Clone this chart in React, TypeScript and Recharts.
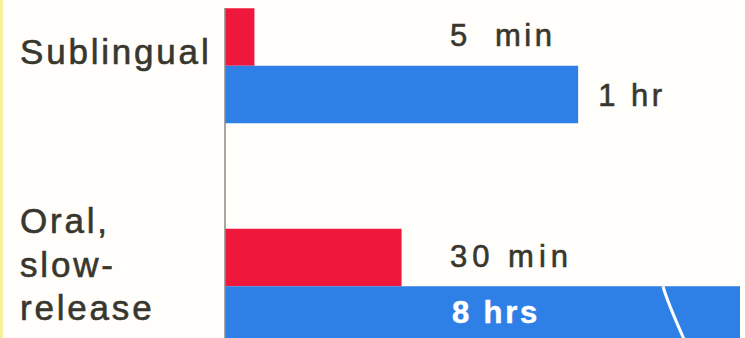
import React from 'react';
import { BarChart, Bar, XAxis, YAxis, LabelList } from 'recharts';

const categories = ['Sublingual', 'Oral, slow-release'];
const categoryLines = [['Sublingual'], ['Oral,', 'slow-', 'release']];
const onsetMinutes = [5, 30];
const durationMinutes = [60, 480];
const onsetLabels = ['5  min', '30 min'];
const onsetSpacing = [3.5, 5];
const durationLabels = ['1 hr', '8 hrs'];
const X_MAX = 87.5;

const data = categories.map((name, i) => ({
  name,
  onset: onsetMinutes[i],
  duration: durationMinutes[i],
}));

const RED = '#f0173d';
const BLUE = '#2e7fe6';
const TEXT = '#38372f';
const FONT = '"Liberation Sans", Arial, Helvetica, sans-serif';

const CategoryTick = (props: any) => {
  const { y, index } = props;
  const lines = categoryLines[index] || [];
  const offsets = lines.length === 1 ? [-1.5] : [-53, -9, 34];
  return (
    <g>
      {lines.map((l, k) => (
        <text key={k} x={20} y={y + offsets[k]} fill={TEXT} stroke={TEXT} strokeWidth={0.6} fontFamily={FONT} fontSize={35} letterSpacing={2.8}>
          {l}
        </text>
      ))}
    </g>
  );
};

const DurationShape = (props: any) => {
  const { x, y, width, height, background, payload } = props;
  const maxRight = background ? background.x + background.width : x + width;
  const w = Math.min(width, maxRight - x);
  const broken = payload && payload.duration > X_MAX;
  return (
    <g>
      <rect x={x} y={y} width={w} height={height} fill={BLUE} />
      {broken && (
        <path
          d={`M ${maxRight - 77} ${y} C ${maxRight - 73} ${y + 15}, ${maxRight - 64} ${y + 35}, ${maxRight - 54} ${y + height}`}
          stroke="#ffffff"
          strokeWidth={3}
          fill="none"
        />
      )}
    </g>
  );
};

const OnsetLabel = (props: any) => {
  const { x, y, height, index } = props;
  return (
    <text x={x + 225} y={y + height / 2 + 9} fill={TEXT} stroke={TEXT} strokeWidth={0.6} fontFamily={FONT} fontSize={31} letterSpacing={onsetSpacing[index]} style={{ whiteSpace: 'pre' }}>
      {onsetLabels[index]}
    </text>
  );
};

const DurationLabel = (props: any) => {
  const { x, y, width, height, index } = props;
  const inside = durationMinutes[index] > X_MAX;
  if (inside) {
    return (
      <text x={x + 227} y={y + height / 2 + 8} fill="#ffffff" stroke="#ffffff" strokeWidth={0.5} fontFamily={FONT} fontWeight="bold" fontSize={31} letterSpacing={2.8}>
        {durationLabels[index]}
      </text>
    );
  }
  return (
    <text x={x + width + 20} y={y + height / 2 + 11} fill={TEXT} stroke={TEXT} strokeWidth={0.6} fontFamily={FONT} fontSize={31} letterSpacing={3.5}>
      {durationLabels[index]}
    </text>
  );
};

export default function App() {
  return (
    <div style={{ position: 'absolute', left: 0, top: 0, width: 745, height: 338, overflow: 'hidden', background: '#fffefb' }}>
      <div style={{ position: 'absolute', left: 0, top: 0, width: 3, height: 338, background: '#f6f09a' }} />
      <BarChart
        width={745}
        height={338}
        data={data}
        layout="vertical"
        margin={{ top: 8, right: 5, bottom: 0, left: 0 }}
        barGap={0}
        barSize={57.5}
      >
        <XAxis type="number" domain={[0, X_MAX]} allowDataOverflow hide />
        <YAxis
          type="category"
          dataKey="name"
          width={225}
          axisLine={{ stroke: '#8a8a80', strokeWidth: 1.5 }}
          tickLine={false}
          tick={<CategoryTick />}
          padding={{ top: -52.75, bottom: -58.25 }}
        />
        <Bar dataKey="onset" fill={RED} isAnimationActive={false}>
          <LabelList dataKey="onset" content={<OnsetLabel />} />
        </Bar>
        <Bar dataKey="duration" fill={BLUE} shape={<DurationShape />} isAnimationActive={false}>
          <LabelList dataKey="duration" content={<DurationLabel />} />
        </Bar>
      </BarChart>
    </div>
  );
}
